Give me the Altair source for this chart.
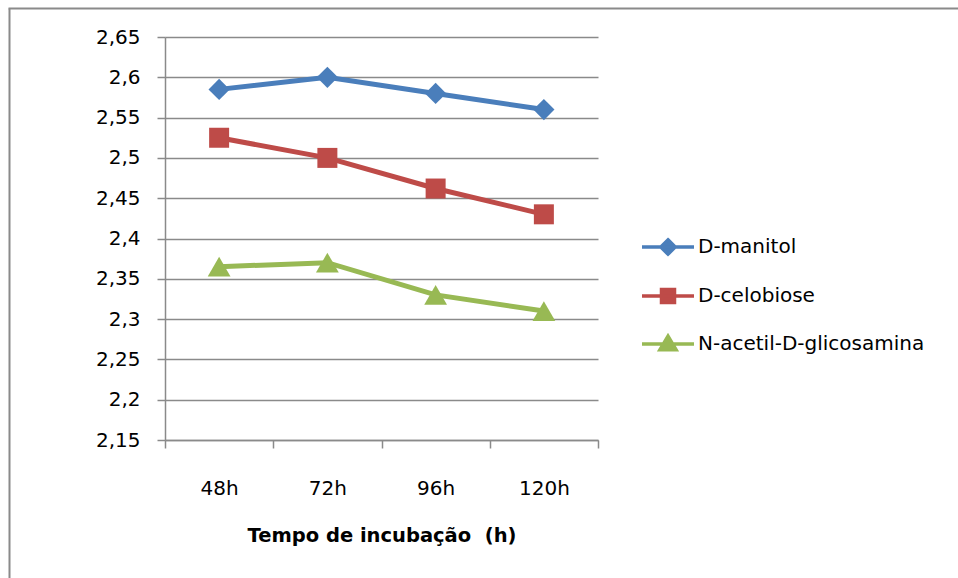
import altair as alt
import pandas as pd

# ---- data ----
tempos = ["48h", "72h", "96h", "120h"]
series_names = ["D-manitol", "D-celobiose", "N-acetil-D-glicosamina"]
d_manitol = [2.585, 2.600, 2.580, 2.560]
d_celobiose = [2.525, 2.500, 2.462, 2.430]
n_acetil = [2.365, 2.370, 2.330, 2.310]
y_ticks = [2.15, 2.20, 2.25, 2.30, 2.35, 2.40, 2.45, 2.50, 2.55, 2.60, 2.65]
x_title = "Tempo de incubação\u00a0 (h)"

colors = ["#4A7EBB", "#BE4B48", "#98B954"]
marker_shapes = ["diamond", "square", "triangle-up"]
marker_sizes = [450, 400, 520]
legend_paths = [
    "M-2,0H2M0,-0.55L0.55,0L0,0.55L-0.55,0Z",
    "M-2,0H2M-0.5,-0.5H0.5V0.5H-0.5Z",
    "M-2,0H2M0,-0.6L0.62,0.45H-0.62Z",
]

rows = []
for name, vals in zip(series_names, [d_manitol, d_celobiose, n_acetil]):
    for t, v in zip(tempos, vals):
        rows.append({"serie": name, "tempo": t, "valor": v})
df = pd.DataFrame(rows)

FONT = "DejaVu Sans"
GRAY = "#8A8A8A"

x_enc = alt.X(
    "tempo:N",
    sort=tempos,
    scale=alt.Scale(paddingInner=0, paddingOuter=0),
    axis=alt.Axis(
        title=x_title,
        labelAngle=0,
        tickBand="extent",
        tickSize=8,
        tickColor=GRAY,
        tickWidth=1.5,
        domainColor=GRAY,
        domainWidth=1.5,
        labelFont=FONT,
        labelFontSize=20,
        labelColor="black",
        labelPadding=30,
        titleFont=FONT,
        titleFontSize=19.5,
        titleFontWeight="bold",
        titleColor="black",
        titlePadding=28,
        grid=False,
    ),
)
y_enc = alt.Y(
    "valor:Q",
    scale=alt.Scale(domain=[2.15, 2.65], nice=False, zero=False),
    axis=alt.Axis(
        title=None,
        values=y_ticks,
        labelExpr="replace(format(datum.value, '.2~f'), '.', ',')",
        tickSize=8,
        tickColor=GRAY,
        tickWidth=1.5,
        domainColor=GRAY,
        domainWidth=1.5,
        gridColor=GRAY,
        gridWidth=1.5,
        labelFont=FONT,
        labelFontSize=20,
        labelColor="black",
        labelPadding=17,
    ),
)
# colour scale for the drawn marks (data-driven domain, sorted like the series list)
color_enc = alt.Color(
    "serie:N",
    sort=series_names,
    scale=alt.Scale(range=colors),
    legend=None,
)

base = alt.Chart(df)

lines = base.mark_line(strokeWidth=5).encode(
    x=x_enc, y=y_enc, color=color_enc, detail="serie:N"
)

point_layers = []
for name, shp, sz in zip(series_names, marker_shapes, marker_sizes):
    point_layers.append(
        base.transform_filter(alt.datum.serie == name)
        .mark_point(shape=shp, size=sz, filled=True, opacity=1)
        .encode(x=x_enc, y=y_enc, color=color_enc)
    )

legend_def = alt.Legend(
    title=None,
    orient="none",
    legendX=488,
    legendY=195,
    symbolSize=676,
    symbolStrokeWidth=3.5,
    symbolOpacity=1,
    labelOffset=15,
    labelFont=FONT,
    labelFontSize=20,
    labelColor="black",
    labelLimit=400,
    rowPadding=19,
    padding=0,
)
legend_layer = (
    base.mark_point(filled=True, strokeWidth=3.5, opacity=0)
    .encode(
        x=x_enc,
        y=y_enc,
        fill=alt.Fill("serie:N", scale=alt.Scale(domain=series_names, range=colors), legend=legend_def),
        stroke=alt.Stroke("serie:N", scale=alt.Scale(domain=series_names, range=colors), legend=legend_def),
        shape=alt.Shape("serie:N", scale=alt.Scale(domain=series_names, range=legend_paths), legend=legend_def),
    )
)

frame_df = pd.DataFrame({"k": [0]})
frame_left = alt.Chart(frame_df).mark_rule(color=GRAY, strokeWidth=2).encode(
    x=alt.value(-155.5), y=alt.value(-28.5), y2=alt.value(545)
)
frame_top = alt.Chart(frame_df).mark_rule(color=GRAY, strokeWidth=2).encode(
    x=alt.value(-156.5), x2=alt.value(800), y=alt.value(-28.5)
)

chart = (
    alt.layer(frame_left, frame_top, lines, *point_layers, legend_layer)
    .properties(
        width=433,
        height=403,
        autosize=alt.AutoSizeParams(type="none"),
        padding={"left": 165, "top": 37, "right": 360, "bottom": 138},
        background="white",
    )
    .configure_view(stroke=None)
)

chart.save("out.html", embed_options={"renderer": "svg", "actions": False})
